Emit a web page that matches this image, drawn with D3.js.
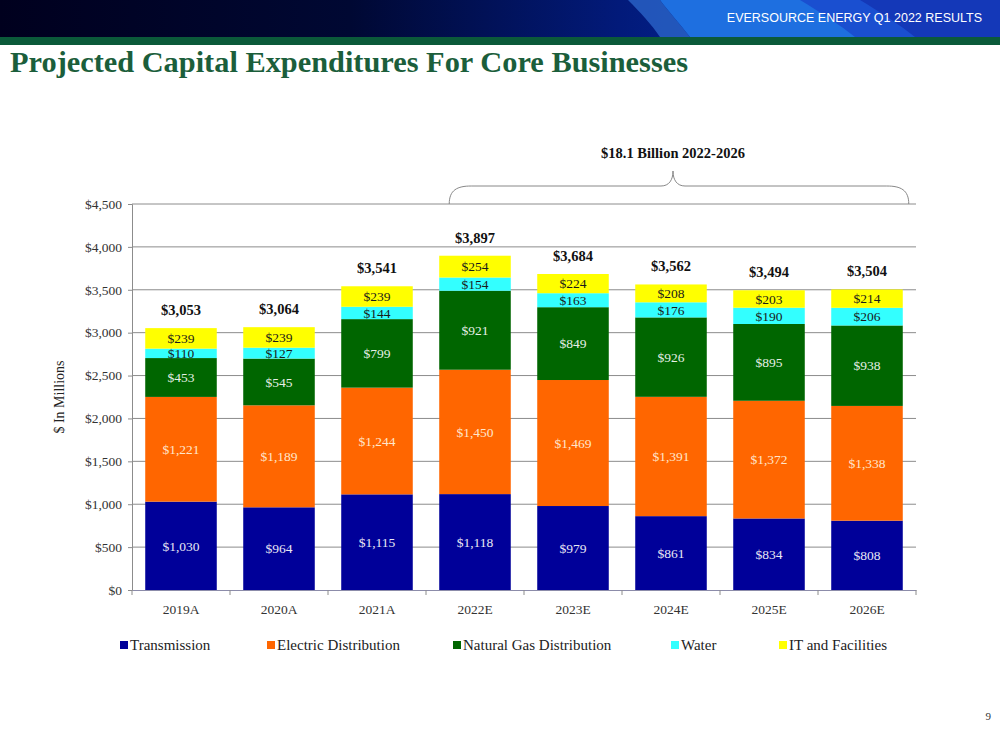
<!DOCTYPE html>
<html><head><meta charset="utf-8">
<script src="https://cdn.jsdelivr.net/npm/d3@7"></script>
<style>body{margin:0;background:#fff}svg{display:block}</style>
</head><body>
<script>
const categories = ["2019A","2020A","2021A","2022E","2023E","2024E","2025E","2026E"];
const seriesNames = ["Transmission","Electric Distribution","Natural Gas Distribution","Water","IT and Facilities"];
const transmission = [1030,964,1115,1118,979,861,834,808];
const electricDistribution = [1221,1189,1244,1450,1469,1391,1372,1338];
const naturalGas = [453,545,799,921,849,926,895,938];
const water = [110,127,144,154,163,176,190,206];
const itFacilities = [239,239,239,254,224,208,203,214];
const totals = [3053,3064,3541,3897,3684,3562,3494,3504];
const yTicks = [0,500,1000,1500,2000,2500,3000,3500,4000,4500];
const seriesColors = ["#000099","#ff6600","#006600","#33ffff","#ffff00"];
const labelColors = ["#e8e8f4","#ffe6cc","#e6f0e6","#1a1a1a","#1a1a1a"];

(function(){
const W=1000,H=750;
const svg=d3.select("body").append("svg").attr("width",W).attr("height",H);
const defs=svg.append("defs");
const g1=defs.append("linearGradient").attr("id","hdr").attr("x1","0").attr("x2","1");
g1.append("stop").attr("offset","0").attr("stop-color","#00001e");
g1.append("stop").attr("offset","0.35").attr("stop-color","#000833");
g1.append("stop").attr("offset","0.62").attr("stop-color","#021a7a");
g1.append("stop").attr("offset","1").attr("stop-color","#0a3cc0");
svg.append("rect").attr("x",0).attr("y",0).attr("width",W).attr("height",37).attr("fill","url(#hdr)");
svg.append("path").attr("d","M628,0 C640,12 652,25 660,37 L690,37 C680,24 668,11 660,0 Z").attr("fill","#2b64c8").attr("opacity",0.8);
svg.append("path").attr("d","M660,0 C668,11 680,24 690,37 L1000,37 L1000,0 Z").attr("fill","#1e6fe0");
svg.append("path").attr("d","M800,0 C820,12 840,25 855,37 L1000,37 L1000,0 Z").attr("fill","#1a4fd0");
svg.append("path").attr("d","M860,0 C880,12 900,25 915,37 L1000,37 L1000,0 Z").attr("fill","#1438b8");
svg.append("text").attr("x",982).attr("y",22).attr("text-anchor","end").attr("fill","#fff")
  .attr("font-family","Liberation Sans, Arial, sans-serif").attr("font-size",12.5).text("EVERSOURCE ENERGY Q1 2022 RESULTS");
svg.append("rect").attr("x",0).attr("y",37).attr("width",W).attr("height",8).attr("fill","#0b5a3a");

svg.append("text").attr("x",10).attr("y",72).attr("fill","#1b5e3b")
  .attr("font-family","Liberation Serif, serif").attr("font-weight","bold").attr("font-size",29)
  .attr("textLength",678).attr("lengthAdjust","spacingAndGlyphs")
  .text("Projected Capital Expenditures For Core Businesses");

const serif="Liberation Serif, serif";
const pL=132,pR=916,pT=204,pB=590;
const x=d3.scaleBand().domain(categories).range([pL,pR]).paddingInner(0.27).paddingOuter(0.135);
const y=d3.scaleLinear().domain([0,4500]).range([pB,pT]);

svg.append("g").selectAll("line").data(yTicks.filter(d=>d>0)).join("line")
  .attr("x1",pL).attr("x2",pR).attr("y1",d=>y(d)).attr("y2",d=>y(d))
  .attr("stroke","#8c8c8c").attr("stroke-width",1);

const ya=svg.append("g").attr("transform",`translate(${pL},0)`)
  .call(d3.axisLeft(y).tickValues(yTicks).tickSize(4).tickFormat(d=>"$"+d3.format(",")(d)));
ya.select(".domain").attr("stroke","#8c8c8c");
ya.selectAll(".tick line").attr("stroke","#8c8c8c");
ya.selectAll("text").attr("font-family",serif).attr("font-size",13.5).attr("fill","#333").attr("x",-10);

const data=categories.map((c,i)=>({cat:c,s0:transmission[i],s1:electricDistribution[i],s2:naturalGas[i],s3:water[i],s4:itFacilities[i]}));
const stack=d3.stack().keys(["s0","s1","s2","s3","s4"])(data);
stack.forEach((layer,li)=>{
  const gg=svg.append("g");
  gg.selectAll("rect").data(layer).join("rect")
    .attr("x",d=>x(d.data.cat)).attr("width",x.bandwidth())
    .attr("y",d=>y(d[1])).attr("height",d=>y(d[0])-y(d[1]))
    .attr("fill",seriesColors[li]);
  gg.selectAll("text").data(layer).join("text")
    .attr("x",d=>x(d.data.cat)+x.bandwidth()/2).attr("y",d=>(y(d[0])+y(d[1]))/2)
    .attr("dy","0.35em").attr("text-anchor","middle").attr("font-family",serif).attr("font-size",13.5)
    .attr("fill",labelColors[li]).text(d=>"$"+d3.format(",")(d[1]-d[0]));
});

const xa=svg.append("g").attr("transform",`translate(0,${pB})`)
  .call(d3.axisBottom(x).tickSize(0).tickPadding(14));
xa.select(".domain").attr("stroke","#8c8caa");
xa.selectAll("text").attr("font-family",serif).attr("font-size",13.5).attr("fill","#333");
svg.append("g").selectAll("line").data(d3.range(categories.length+1)).join("line")
  .attr("x1",i=>pL+i*x.step()).attr("x2",i=>pL+i*x.step()).attr("y1",pB).attr("y2",pB+5)
  .attr("stroke","#8c8c8c");

svg.append("g").selectAll("text").data(categories).join("text")
  .attr("x",d=>x(d)+x.bandwidth()/2).attr("y",(d,i)=>y(totals[i])-13)
  .attr("text-anchor","middle").attr("font-family",serif).attr("font-weight","bold").attr("font-size",14.5)
  .attr("fill","#111").text((d,i)=>"$"+d3.format(",")(totals[i]));

svg.append("text").attr("transform",`translate(64,${(pT+pB)/2}) rotate(-90)`)
  .attr("text-anchor","middle").attr("font-family",serif).attr("font-size",14).attr("fill","#222").text("$ In Millions");

const bx0=x("2022E")+10, bx1=x("2026E")+x.bandwidth()+6, bm=673;
svg.append("path").attr("d",
 `M${bx0},${pT} C${bx0},${pT-14} ${bx0+8},${pT-18} ${bx0+22},${pT-18} L${bm-12},${pT-18} C${bm-4},${pT-18} ${bm},${pT-24} ${bm},${pT-33}
  C${bm},${pT-24} ${bm+4},${pT-18} ${bm+12},${pT-18} L${bx1-22},${pT-18} C${bx1-8},${pT-18} ${bx1},${pT-14} ${bx1},${pT}`)
 .attr("fill","none").attr("stroke","#888").attr("stroke-width",1);
svg.append("text").attr("x",673).attr("y",158).attr("text-anchor","middle").attr("font-family",serif)
  .attr("font-weight","bold").attr("font-size",14.5).attr("fill","#111").text("$18.1 Billion 2022-2026");

const legendX=[120,267,453,671,779];
const lg=svg.append("g");
seriesNames.forEach((n,i)=>{
  lg.append("rect").attr("x",legendX[i]).attr("y",641).attr("width",8).attr("height",8).attr("fill",seriesColors[i]);
  lg.append("text").attr("x",legendX[i]+10).attr("y",650).attr("font-family",serif).attr("font-size",15).attr("fill","#222").text(n);
});

svg.append("text").attr("x",991).attr("y",720).attr("text-anchor","end").attr("font-family",serif).attr("font-size",11).attr("fill","#333").text("9");
})();
</script>
</body></html>
